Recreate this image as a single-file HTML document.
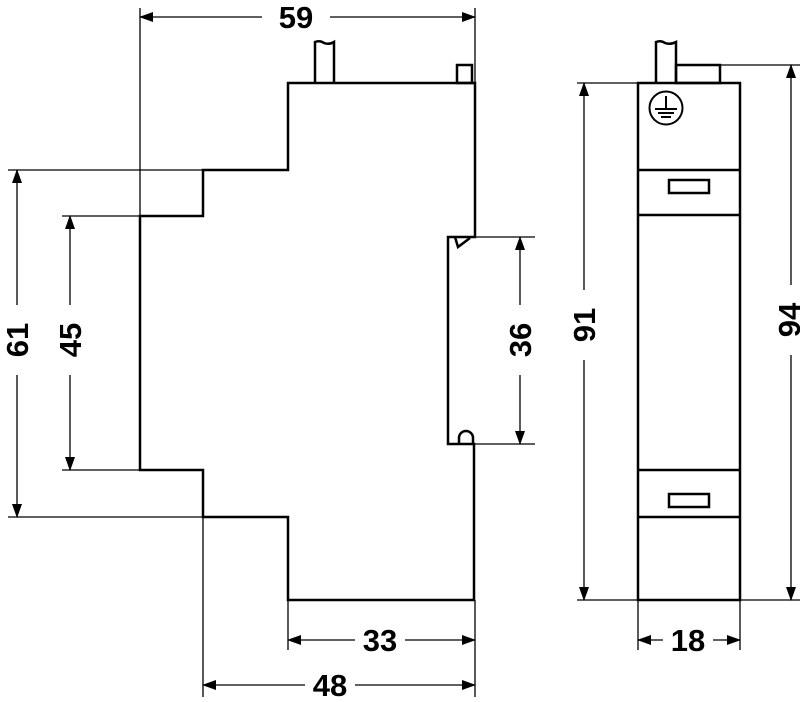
<!DOCTYPE html>
<html><head><style>html,body{margin:0;padding:0;background:#fff}</style></head><body>
<svg width="800" height="697" viewBox="0 0 800 697" xmlns="http://www.w3.org/2000/svg">
<defs>
<marker id="a" markerWidth="14" markerHeight="10" refX="13" refY="5" orient="auto-start-reverse" markerUnits="userSpaceOnUse">
<path d="M0,0 L14,5 L0,10 Z" fill="#000"/></marker>
</defs>
<g fill="none" stroke="#000" stroke-width="2.5">
<path d="M288,83 H475 V237 H448 V444 H474 V600 H288 V517 H203 V470 H140 V216 H203 V170 H288 Z"/>
<path d="M315,83 V42 Q320,40 324,43 Q329,45 334,42 V83"/>
<rect x="457" y="65" width="15" height="18"/>
<path d="M455,237 L458,247 L470,238"/>
<path d="M459,444 V438 A7,7 0 0 1 473,438 V444"/>
<rect x="638" y="83" width="102" height="517"/>
<path d="M638,170 H740 M638,215 H740 M638,470 H740 M638,517 H740"/>
<rect x="669" y="180" width="40" height="13"/>
<rect x="669" y="494" width="40" height="13"/>
<path d="M656,83 V42 Q661,40 665,43 Q670,45 676,42 V83"/>
<rect x="676" y="65" width="44" height="18"/>
</g>
<g fill="none" stroke="#000" stroke-width="2">
<circle cx="666" cy="108" r="16.5"/>
<path d="M666,96 V109 M655,109 H677 M658,113 H674 M661,117 H671"/>
</g>
<g fill="none" stroke="#000" stroke-width="1.3">
<path d="M140,8 V216 M475,8 V83"/>
<path d="M8,170 H203 M8,517 H203"/>
<path d="M62,216 H140 M62,470 H140"/>
<path d="M475,237 H535 M475,444 H535"/>
<path d="M288,600 V650 M475,600 V697 M203,517 V697"/>
<path d="M577,83 H638 M577,600 H638"/>
<path d="M720,65 H800 M740,600 H800"/>
<path d="M638,600 V650 M740,600 V650"/>
<path d="M140,17 H262 M330,17 H475" marker-start="url(#a)" marker-end="url(#a)"/>
<path d="M17,170 V305 M17,375 V517" marker-start="url(#a)" marker-end="url(#a)"/>
<path d="M70,216 V305 M70,375 V470" marker-start="url(#a)" marker-end="url(#a)"/>
<path d="M520,237 V305 M520,375 V444" marker-start="url(#a)" marker-end="url(#a)"/>
<path d="M288,640 H355 M405,640 H475" marker-start="url(#a)" marker-end="url(#a)"/>
<path d="M203,685 H305 M355,685 H475" marker-start="url(#a)" marker-end="url(#a)"/>
<path d="M584,83 V290 M584,360 V600" marker-start="url(#a)" marker-end="url(#a)"/>
<path d="M791,65 V285 M791,355 V600" marker-start="url(#a)" marker-end="url(#a)"/>
<path d="M638,640 H663 M713,640 H740" marker-start="url(#a)" marker-end="url(#a)"/>
</g>
<g font-family="Liberation Sans, sans-serif" font-weight="bold" font-size="31" text-anchor="middle" fill="#000">
<text x="296" y="28">59</text>
<text x="380" y="651">33</text>
<text x="330" y="696">48</text>
<text x="688" y="651">18</text>
<text transform="translate(28,340) rotate(-90)">61</text>
<text transform="translate(81,340) rotate(-90)">45</text>
<text transform="translate(531,340) rotate(-90)">36</text>
<text transform="translate(595,325) rotate(-90)">91</text>
<text transform="translate(800,320) rotate(-90)">94</text>
</g>
</svg>
</body></html>
